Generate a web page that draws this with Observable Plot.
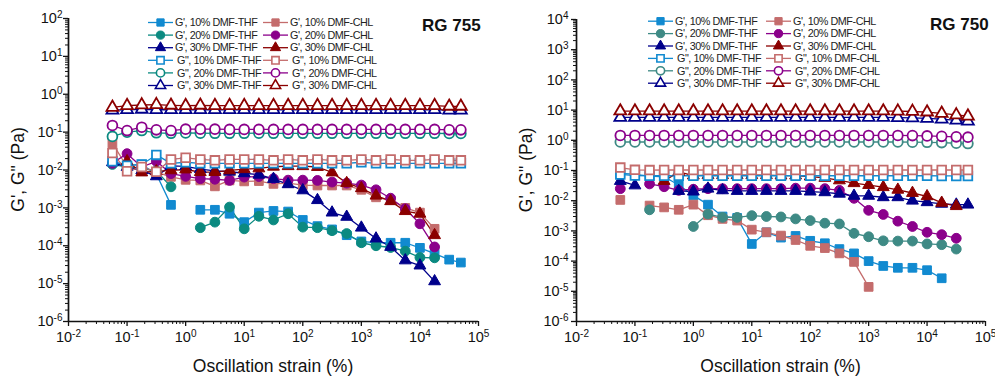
<!DOCTYPE html>
<html><head><meta charset="utf-8">
<script src="https://cdn.jsdelivr.net/npm/d3@7"></script>
<script src="https://cdn.jsdelivr.net/npm/@observablehq/plot@0.6"></script>
<style>
body{margin:0;background:#fff;font-family:"Liberation Sans",Arial,sans-serif;}
#wrap{display:flex;width:995px;height:377px;overflow:hidden;}
</style></head><body><div id="wrap"></div>
<script>
// ---- shared strain values (%) ----
const strain = [0.0562,0.1,0.178,0.316,0.562,1,1.78,3.16,5.62,10,17.8,31.6,56.2,100,178,316,562,1000,1780,3160,5620,10000,17800,31600,50000];
const xTicks = [1e-2,1e-1,1,10,100,1e3,1e4,1e5];
const yTicks755 = [1e-6,1e-5,1e-4,1e-3,1e-2,1e-1,1,10,100];
const yTicks750 = [1e-6,1e-5,1e-4,1e-3,1e-2,1e-1,1,10,100,1e3,1e4];
const panelTitles = ["RG 755","RG 750"];
const xTitle = "Oscillation strain (%)";
const yTitle = "G', G\" (Pa)";
const legendLabelsTHF = ["G', 10% DMF-THF","G', 20% DMF-THF","G', 30% DMF-THF","G\", 10% DMF-THF","G\", 20% DMF-THF","G\", 30% DMF-THF"];
const legendLabelsCHL = ["G', 10% DMF-CHL","G', 20% DMF-CHL","G', 30% DMF-CHL","G\", 10% DMF-CHL","G\", 20% DMF-CHL","G\", 30% DMF-CHL"];

// ---- RG 755 ----
const gp_thf10_755 = [0.017,0.013,0.014,0.0078,0.0012,null,0.00089,0.00089,0.0007,0.00042,0.00075,0.00083,0.0008,0.00048,0.00033,0.00027,0.00019,0.00013,0.00012,0.00012,0.00012,0.000088,0.000062,0.000043,0.000036];
const gp_thf20_755 = [0.014,0.012,0.011,0.0095,0.0036,null,0.0003,0.00042,0.00105,0.00028,0.0006,0.00048,0.0007,0.00031,0.0003,0.00025,0.00021,0.00012,0.0001,0.00009,0.000072,0.000049,0.000048,null,null];
const gp_thf30_755 = [0.016,0.012,0.0098,0.0068,0.0128,0.0124,0.0105,0.0095,0.009,0.0082,0.0075,0.0058,0.0042,0.0029,0.0016,0.00075,0.00058,0.0003,0.000155,0.000093,0.000041,0.00003,0.0000115,null,null];
const gp_chl10_755 = [0.051,0.012,0.0095,0.0088,0.0066,0.0055,0.0053,0.0037,0.0053,0.005,0.0051,0.0043,0.0045,0.004,0.0039,0.0039,0.0039,0.003,0.0019,0.0016,0.001,0.00075,0.00028,null,null];
const gp_chl20_755 = [0.015,0.027,0.012,0.017,0.008,0.0068,0.0059,0.0057,0.0053,0.0065,0.0067,0.0059,0.0054,0.0054,0.0053,0.0048,0.0045,0.004,0.003,0.0018,0.00095,0.00038,0.000093,null,null];
const gp_chl30_755 = [null,0.017,0.0086,0.0092,0.0098,0.0103,0.0088,0.0088,0.0098,0.0105,0.011,0.0122,0.0126,0.0126,0.012,0.0086,0.0045,0.0033,0.0021,0.0015,0.00082,0.0007,0.00019,null,null];
const gpp_thf10_755 = [0.017,0.013,0.014,0.025,0.015,0.016,0.015,0.015,0.015,0.015,0.015,0.015,0.015,0.015,0.015,0.015,0.015,0.016,0.015,0.015,0.015,0.015,0.015,0.015,0.015];
const gpp_thf20_755 = [0.077,0.1,0.11,0.096,0.093,0.095,0.094,0.093,0.093,0.093,0.094,0.093,0.093,0.093,0.093,0.093,0.093,0.093,0.093,0.093,0.093,0.093,0.093,0.092,0.092];
const gpp_thf30_755 = [0.38,0.39,0.4,0.39,0.39,0.39,0.39,0.39,0.39,0.39,0.39,0.39,0.39,0.39,0.39,0.39,0.39,0.39,0.39,0.39,0.39,0.39,0.39,0.38,0.38];
const gpp_chl10_755 = [0.028,0.0093,0.012,0.009,0.019,0.021,0.019,0.018,0.019,0.019,0.019,0.018,0.019,0.018,0.019,0.018,0.018,0.019,0.018,0.019,0.018,0.018,0.019,0.018,0.018];
const gpp_chl20_755 = [0.15,0.11,0.135,0.115,0.11,0.12,0.12,0.12,0.118,0.118,0.118,0.118,0.118,0.118,0.118,0.118,0.118,0.118,0.118,0.118,0.118,0.118,0.118,0.115,0.115];
const gpp_chl30_755 = [0.45,0.5,0.52,0.53,0.51,0.5,0.51,0.5,0.5,0.5,0.5,0.5,0.5,0.5,0.5,0.5,0.5,0.5,0.5,0.5,0.5,0.5,0.5,0.48,0.48];

// ---- RG 750 ----
const gp_thf10_750 = [0.08,0.075,0.065,0.062,0.033,0.015,0.0074,0.003,0.0027,0.00037,0.0009,0.0006,0.00068,0.00047,0.00039,0.00025,0.00018,0.0001,0.000069,0.00006,0.00006,0.00005,0.000027,null,null];
const gp_thf20_750 = [null,null,0.005,null,null,0.0014,0.0036,0.0028,0.0028,0.0032,0.003,0.0029,0.0025,0.0022,0.0018,0.0017,0.00083,0.00064,0.00047,0.00046,0.00046,0.00037,0.00035,0.00025,null];
const gp_thf30_750 = [0.045,0.032,null,null,0.021,0.02,0.025,0.022,0.021,0.021,0.021,0.021,0.021,0.02,0.019,0.017,0.0145,0.0145,0.013,0.013,0.01,0.0089,0.0079,0.0074,0.0074];
const gp_chl10_750 = [0.0106,null,0.0069,0.006,0.005,0.0074,0.0033,0.0025,0.0022,0.0011,0.0009,0.0007,0.0005,0.00032,0.00027,0.00018,0.000094,0.000014,null,null,null,null,null,null,null];
const gp_chl20_750 = [0.025,null,0.036,0.029,0.022,0.024,0.025,0.025,0.025,0.025,0.025,0.025,0.026,0.026,0.025,0.022,0.012,0.0048,0.0035,0.0021,0.0014,0.0009,0.00075,0.00057,null];
const gp_chl30_750 = [null,null,null,0.045,0.09,0.068,0.07,0.07,0.07,0.07,0.07,0.068,0.068,0.063,0.057,0.047,0.038,0.033,0.028,0.023,0.018,0.014,0.0085,0.0066,null];
const gpp_thf10_750 = [0.074,0.068,0.067,0.067,0.067,0.067,0.067,0.067,0.067,0.067,0.067,0.067,0.067,0.067,0.067,0.067,0.067,0.067,0.067,0.067,0.067,0.067,0.066,0.066,0.066];
const gpp_thf20_750 = [0.88,0.88,0.88,0.88,0.88,0.88,0.88,0.88,0.88,0.88,0.88,0.88,0.88,0.88,0.88,0.88,0.88,0.88,0.88,0.88,0.87,0.86,0.84,0.8,0.78];
const gpp_thf30_750 = [5.7,5.7,5.7,5.7,5.7,5.7,5.7,5.7,5.7,5.7,5.7,5.7,5.7,5.7,5.7,5.7,5.7,5.7,5.7,5.6,5.5,5.3,5.0,4.6,4.3];
const gpp_chl10_750 = [0.125,0.105,0.103,0.104,0.104,0.104,0.104,0.104,0.104,0.104,0.104,0.104,0.104,0.104,0.104,0.104,0.104,0.104,0.104,0.104,0.104,0.104,0.104,0.104,0.104];
const gpp_chl20_750 = [1.45,1.45,1.45,1.45,1.45,1.45,1.45,1.45,1.45,1.45,1.45,1.45,1.45,1.45,1.45,1.45,1.45,1.45,1.45,1.45,1.43,1.4,1.35,1.3,1.27];
const gpp_chl30_750 = [9.3,9.3,9.3,9.3,9.3,9.3,9.3,9.3,9.3,9.3,9.3,9.3,9.3,9.3,9.3,9.3,9.3,9.3,9.3,9.2,9.0,8.6,7.8,6.9,6.3];

const FONT = "Liberation Sans, Arial, sans-serif";

function buildSeries(v, tealColor) {
  const c = {thf10:"#118ad0", thf20: tealColor, thf30:"#00008b", chl10:"#c46c6c", chl20:"#8b008b", chl30:"#8b0000"};
  return [
    {key:"gp_thf10", label:legendLabelsTHF[0], col:0,row:0, v:v.gp_thf10, color:c.thf10, symbol:"square", filled:true},
    {key:"gp_chl10", label:legendLabelsCHL[0], col:1,row:0, v:v.gp_chl10, color:c.chl10, symbol:"square", filled:true},
    {key:"gp_thf20", label:legendLabelsTHF[1], col:0,row:1, v:v.gp_thf20, color:c.thf20, symbol:"circle", filled:true},
    {key:"gp_chl20", label:legendLabelsCHL[1], col:1,row:1, v:v.gp_chl20, color:c.chl20, symbol:"circle", filled:true},
    {key:"gp_thf30", label:legendLabelsTHF[2], col:0,row:2, v:v.gp_thf30, color:c.thf30, symbol:"triangle", filled:true},
    {key:"gp_chl30", label:legendLabelsCHL[2], col:1,row:2, v:v.gp_chl30, color:c.chl30, symbol:"triangle", filled:true},
    {key:"gpp_thf10", label:legendLabelsTHF[3], col:0,row:3, v:v.gpp_thf10, color:c.thf10, symbol:"square", filled:false},
    {key:"gpp_chl10", label:legendLabelsCHL[3], col:1,row:3, v:v.gpp_chl10, color:c.chl10, symbol:"square", filled:false},
    {key:"gpp_thf20", label:legendLabelsTHF[4], col:0,row:4, v:v.gpp_thf20, color:c.thf20, symbol:"circle", filled:false},
    {key:"gpp_chl20", label:legendLabelsCHL[4], col:1,row:4, v:v.gpp_chl20, color:c.chl20, symbol:"circle", filled:false},
    {key:"gpp_thf30", label:legendLabelsTHF[5], col:0,row:5, v:v.gpp_thf30, color:c.thf30, symbol:"triangle", filled:false},
    {key:"gpp_chl30", label:legendLabelsCHL[5], col:1,row:5, v:v.gpp_chl30, color:c.chl30, symbol:"triangle", filled:false}
  ];
}

function minorOf(majors){ const m=[]; for (let i=0;i<majors.length-1;i++) for (let j=2;j<=9;j++) m.push(majors[i]*j); return m; }
const rTri = 4.4, rOther = 4.9;

function makePanel(cfg) {
  const series = buildSeries(cfg.values, cfg.teal);
  const marks = [];
  for (const s of series) {
    const rows = strain.map((x,i)=>({x, y: s.v[i]}));
    marks.push(Plot.line(rows, {x:"x", y:"y", stroke:s.color, strokeWidth:1.3}));
  }
  for (const s of series) {
    const rows = strain.map((x,i)=>({x, y: s.v[i]})).filter(d => d.y != null);
    marks.push(Plot.dot(rows, {x:"x", y:"y", symbol:s.symbol, r: s.symbol==="triangle"?rTri:rOther,
      fill: s.filled ? s.color : "white", stroke: s.color, strokeWidth: s.filled ? 1 : 1.8}));
  }
  const fmt = d => "E" + Math.round(Math.log10(d));
  marks.push(
    Plot.axisX({ticks: xTicks, tickSize:5, tickPadding:5, tickFormat: fmt, fontSize:14.5, strokeWidth:1.3, label:null, color:"#111"}),
    Plot.axisX({ticks: minorOf(xTicks), tickSize:3, tickFormat: () => "", strokeWidth:1, label:null}),
    Plot.axisY({ticks: cfg.yTicks, tickSize:5, tickPadding:cfg.yPad, tickFormat: fmt, fontSize:14.5, strokeWidth:1.3, label:null, color:"#111"}),
    Plot.axisY({ticks: minorOf(cfg.yTicks), tickSize:3, tickFormat: () => "", strokeWidth:1, label:null}),
    Plot.ruleX([xTicks[0]], {strokeWidth:1.7, stroke:"#111"}),
    Plot.ruleY([cfg.yTicks[0]], {strokeWidth:1.7, stroke:"#111"})
  );
  const svg = Plot.plot({
    width: cfg.width, height: 377,
    marginLeft: cfg.mL, marginRight: cfg.mR, marginTop: cfg.mT, marginBottom: cfg.mB,
    x: {type:"log", domain:[xTicks[0], xTicks[xTicks.length-1]]},
    y: {type:"log", domain:[cfg.yTicks[0], cfg.yTicks[cfg.yTicks.length-1]]},
    style: {fontFamily: FONT, background:"white", color:"#111", overflow:"visible"},
    marks
  });
  svg.querySelectorAll("text").forEach(t => {
    const s = t.textContent;
    if (/^E-?\d+$/.test(s)) {
      const e = s.slice(1);
      while (t.firstChild) t.removeChild(t.firstChild);
      const a = document.createElementNS("http://www.w3.org/2000/svg","tspan");
      a.textContent = "10";
      const b = document.createElementNS("http://www.w3.org/2000/svg","tspan");
      b.textContent = e; b.setAttribute("dy","-0.5em"); b.setAttribute("font-size","10px");
      t.appendChild(a); t.appendChild(b);
    }
  });
  const g = d3.select(svg);
  g.append("text").attr("x", cfg.titleX).attr("y", cfg.titleY).attr("text-anchor","start").attr("font-family",FONT)
    .attr("font-size",17).attr("font-weight","bold").attr("fill","#111").text(cfg.title);
  const midX = (cfg.mL + cfg.width - cfg.mR)/2, midY = (cfg.mT + 377 - cfg.mB)/2;
  g.append("text").attr("x", midX).attr("y", 371.5).attr("text-anchor","middle").attr("font-family",FONT)
    .attr("font-size",17.5).attr("fill","#111").text(xTitle);
  g.append("text").attr("transform",`translate(${cfg.yTitleX},${midY}) rotate(-90)`).attr("text-anchor","middle")
    .attr("font-family",FONT).attr("font-size",17.5).attr("fill","#111").text(yTitle);
  const lg = g.append("g").attr("text-anchor","start");
  const symMap = {square:d3.symbolSquare, circle:d3.symbolCircle, triangle:d3.symbolTriangle};
  for (const s of series) {
    const x0 = s.col === 0 ? cfg.legX1 : cfg.legX2;
    const y0 = cfg.legY0 + s.row * cfg.legDY;
    const e = lg.append("g").attr("transform",`translate(${x0},${y0})`);
    e.append("line").attr("x1",0).attr("x2",25).attr("y1",0).attr("y2",0).attr("stroke",s.color).attr("stroke-width",1.3);
    const r = s.symbol==="triangle" ? 3.8 : 4.1;
    e.append("path").attr("transform","translate(12.5,0)")
      .attr("d", d3.symbol(symMap[s.symbol], Math.PI*r*r)())
      .attr("fill", s.filled ? s.color : "white").attr("stroke", s.color).attr("stroke-width", s.filled ? 1 : 1.6);
    e.append("text").attr("x", s.filled ? 27 : 29).attr("y", 0).attr("dy","0.35em").attr("text-anchor","start")
      .attr("font-family",FONT).attr("font-size",10.8).attr("letter-spacing","-0.45").attr("fill","#222").text(s.label);
  }
  return svg;
}

const panel755 = makePanel({
  title: panelTitles[0], width:497, mL:68, mR:19, mT:18, mB:56, yTicks: yTicks755, yPad:1, teal:"#0b8a81",
  titleX:422, titleY:31, yTitleX:23.5, legX1:148, legX2:263, legY0:22.5, legDY:12.6,
  values:{gp_thf10:gp_thf10_755, gp_thf20:gp_thf20_755, gp_thf30:gp_thf30_755, gp_chl10:gp_chl10_755, gp_chl20:gp_chl20_755, gp_chl30:gp_chl30_755,
          gpp_thf10:gpp_thf10_755, gpp_thf20:gpp_thf20_755, gpp_thf30:gpp_thf30_755, gpp_chl10:gpp_chl10_755, gpp_chl20:gpp_chl20_755, gpp_chl30:gpp_chl30_755}
});
const panel750 = makePanel({
  title: panelTitles[1], width:498, mL:79, mR:10, mT:19, mB:56, yTicks: yTicks750, yPad:3, teal:"#3e8a85",
  titleX:433, titleY:30, yTitleX:35, legX1:151, legX2:269, legY0:21.2, legDY:12.4,
  values:{gp_thf10:gp_thf10_750, gp_thf20:gp_thf20_750, gp_thf30:gp_thf30_750, gp_chl10:gp_chl10_750, gp_chl20:gp_chl20_750, gp_chl30:gp_chl30_750,
          gpp_thf10:gpp_thf10_750, gpp_thf20:gpp_thf20_750, gpp_thf30:gpp_thf30_750, gpp_chl10:gpp_chl10_750, gpp_chl20:gpp_chl20_750, gpp_chl30:gpp_chl30_750}
});
const wrap = document.getElementById("wrap");
wrap.appendChild(panel755);
wrap.appendChild(panel750);
</script>
</body></html>
